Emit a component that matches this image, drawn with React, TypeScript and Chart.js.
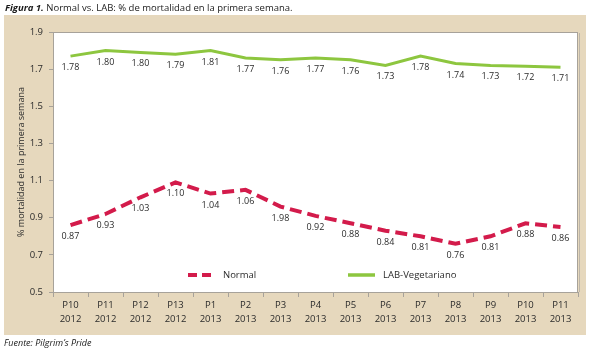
import React, { useEffect, useRef } from "react";
import { Chart, registerables } from "chart.js";

Chart.register(...registerables);

const periods = ["P10", "P11", "P12", "P13", "P1", "P2", "P3", "P4", "P5", "P6", "P7", "P8", "P9", "P10", "P11"];
const years = ["2012", "2012", "2012", "2012", "2013", "2013", "2013", "2013", "2013", "2013", "2013", "2013", "2013", "2013", "2013"];
const normalValues = [0.86, 0.92, 1.01, 1.09, 1.03, 1.05, 0.96, 0.91, 0.87, 0.83, 0.80, 0.76, 0.80, 0.87, 0.85];
const normalLabels = ["0.87", "0.93", "1.03", "1.10", "1.04", "1.06", "1.98", "0.92", "0.88", "0.84", "0.81", "0.76", "0.81", "0.88", "0.86"];
const labValues = [1.77, 1.80, 1.79, 1.78, 1.80, 1.76, 1.75, 1.76, 1.75, 1.72, 1.77, 1.73, 1.72, 1.715, 1.71];
const labLabels = ["1.78", "1.80", "1.80", "1.79", "1.81", "1.77", "1.76", "1.77", "1.76", "1.73", "1.78", "1.74", "1.73", "1.72", "1.71"];
const yTicks = [0.5, 0.7, 0.9, 1.1, 1.3, 1.5, 1.7, 1.9];

const RED = "#d31b4b";
const GREEN = "#8dc63f";
const BEIGE = "#e6d8bd";
const FONT = "'Open Sans', 'Liberation Sans', sans-serif";
const TEXT = "#2b2b2b";

const decorPlugin = {
  id: "decor",
  beforeDraw(chart: any) {
    const { ctx, chartArea } = chart;
    const { left, right, top, bottom } = chartArea;
    ctx.save();
    ctx.fillStyle = "#ffffff";
    ctx.fillRect(0, 0, chart.width, chart.height);
    ctx.fillStyle = BEIGE;
    ctx.fillRect(4, 15, 582, 320);
    ctx.fillStyle = "#ffffff";
    ctx.fillRect(left, top, right - left, bottom - top);
    ctx.strokeStyle = "#a7a29a";
    ctx.lineWidth = 1;
    ctx.strokeRect(left + 0.5, top + 0.5, right - left - 1, bottom - top);
    ctx.strokeStyle = "#bdb6aa";
    ctx.beginPath();
    ctx.moveTo(right + 1.5, top + 1);
    ctx.lineTo(right + 1.5, bottom);
    ctx.stroke();
    // title
    ctx.textBaseline = "alphabetic";
    ctx.fillStyle = "#1a1a1a";
    ctx.font = `italic bold 9.5px ${FONT}`;
    ctx.fillText("Figura 1.", 5, 11);
    const w = ctx.measureText("Figura 1. ").width;
    ctx.font = `9.5px ${FONT}`;
    ctx.fillText("Normal vs. LAB: % de mortalidad en la primera semana.", 5 + w, 11);
    // footnote
    ctx.font = `italic 9px ${FONT}`;
    ctx.fillText("Fuente: Pilgrim\u2019s Pride", 4, 346);
    // y axis title
    ctx.save();
    ctx.translate(21, (top + bottom) / 2);
    ctx.rotate(-Math.PI / 2);
    ctx.textAlign = "center";
    ctx.textBaseline = "middle";
    ctx.font = `9px ${FONT}`;
    ctx.fillStyle = TEXT;
    ctx.fillText("% mortalidad en la primera semana", 0, 0);
    ctx.restore();
    ctx.restore();
  },
  afterDatasetsDraw(chart: any) {
    const { ctx } = chart;
    ctx.save();
    ctx.font = `9px ${FONT}`;
    ctx.fillStyle = TEXT;
    ctx.textAlign = "center";
    ctx.textBaseline = "top";
    chart.data.datasets.forEach((ds: any, i: number) => {
      const meta = chart.getDatasetMeta(i);
      meta.data.forEach((pt: any, j: number) => {
        ctx.fillText(ds.pointLabels[j], pt.x, pt.y + 7);
      });
    });
    // legend
    const ly = 275;
    const ds0 = chart.data.datasets[0];
    const ds1 = chart.data.datasets[1];
    ctx.lineWidth = 4;
    ctx.strokeStyle = ds0.borderColor;
    ctx.setLineDash([9, 5]);
    ctx.beginPath();
    ctx.moveTo(188, ly);
    ctx.lineTo(211, ly);
    ctx.stroke();
    ctx.setLineDash([]);
    ctx.lineWidth = 3.5;
    ctx.strokeStyle = ds1.borderColor;
    ctx.beginPath();
    ctx.moveTo(348, ly);
    ctx.lineTo(375, ly);
    ctx.stroke();
    ctx.textAlign = "left";
    ctx.textBaseline = "middle";
    ctx.font = `9.5px ${FONT}`;
    ctx.fillText(ds0.label, 223, ly);
    ctx.fillText(ds1.label, 383, ly);
    ctx.restore();
  },
};

export default function App() {
  const ref = useRef<HTMLCanvasElement>(null);
  useEffect(() => {
    const chart = new Chart(ref.current!, {
      type: "line",
      data: {
        labels: periods.map((p, i) => [p, years[i]]),
        datasets: [
          {
            label: "Normal",
            data: normalValues,
            borderColor: RED,
            borderWidth: 4,
            borderDash: [12, 6],
            pointRadius: 0,
            tension: 0,
            pointLabels: normalLabels,
          } as any,
          {
            label: "LAB-Vegetariano",
            data: labValues,
            borderColor: GREEN,
            borderWidth: 3,
            pointRadius: 0,
            tension: 0,
            pointLabels: labLabels,
          } as any,
        ],
      },
      options: {
        animation: false,
        responsive: false,
        maintainAspectRatio: false,
        layout: { padding: { left: 0, top: 32, right: 12, bottom: 0 } },
        plugins: { legend: { display: false }, tooltip: { enabled: false } },
        scales: {
          x: {
            offset: true,
            afterFit: (s: any) => { s.height = 59; },
            grid: {
              offset: true,
              drawOnChartArea: false,
              drawTicks: true,
              tickLength: 5,
              color: "#a7a29a",
            },
            border: { display: false },
            ticks: {
              color: TEXT,
              font: { family: FONT, size: 9.5, lineHeight: 1.4 },
              padding: 2,
              maxRotation: 0,
              autoSkip: false,
            },
          },
          y: {
            min: 0.5,
            max: 1.9,
            afterFit: (s: any) => { s.width = 53; },
            afterBuildTicks: (s: any) => { s.ticks = yTicks.map((v) => ({ value: v })); },
            grid: { drawOnChartArea: false, tickLength: 4, color: "#a7a29a" },
            border: { display: false },
            ticks: {
              color: TEXT,
              font: { family: FONT, size: 9.5 },
              padding: 6,
              callback: (v: any) => Number(v).toFixed(1),
            },
          },
        },
      },
      plugins: [decorPlugin],
    });
    return () => chart.destroy();
  }, []);
  return (
    <div style={{ position: "absolute", left: 0, top: 0, width: 590, height: 351 }}>
      <canvas ref={ref} width={590} height={351} style={{ width: 590, height: 351, display: "block" }} />
    </div>
  );
}
